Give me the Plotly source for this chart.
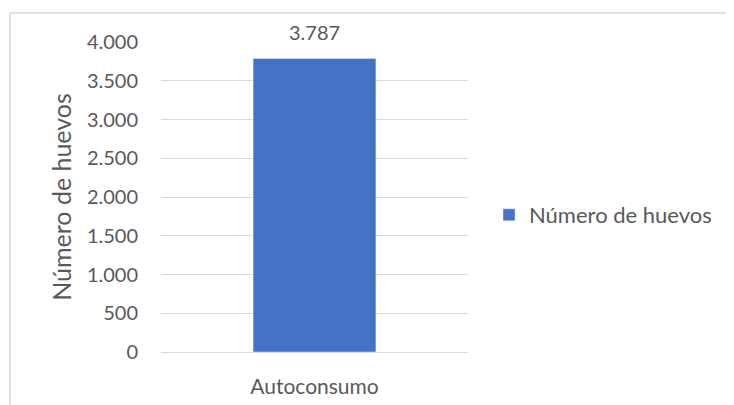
import plotly.graph_objects as go

categories = ["Autoconsumo"]
values = [3787]
series_name = "Número de huevos"
y_ticks = [0, 500, 1000, 1500, 2000, 2500, 3000, 3500, 4000]

OFF = 8  # page body margin
W, H = 734 - OFF, 405 - OFF
L, R, T, B = 161 - OFF, 734 - 468, 42 - OFF, 405 - 352
pw, ph = W - L - R, H - T - B

def px_x(x):
    return (x - OFF - L) / pw

def px_y(y):
    return (H - B - (y - OFF)) / ph

FONT = "Lato, Calibri, sans-serif"
GRAY = "#595959"

fig = go.Figure()
fig.add_trace(go.Bar(
    x=categories, y=values, name=series_name,
    marker_color="#4472c4",
    showlegend=True,
))
for c, v in zip(categories, values):
    fig.add_annotation(x=c, y=v, text=f"{v:,}".replace(",", "."), showarrow=False,
                       yanchor="bottom", yshift=13,
                       font=dict(size=20, color=GRAY, family=FONT))

fig.update_layout(
    width=W, height=H,
    margin=dict(l=L, r=R, t=T, b=B, autoexpand=False),
    paper_bgcolor="white", plot_bgcolor="white",
    separators=",.",
    bargap=0.6,
    font=dict(family=FONT, color=GRAY, size=20),
    showlegend=True,
    legend=dict(x=px_x(489), y=px_y(215), xanchor="left", yanchor="middle",
                font=dict(size=22, color=GRAY, family=FONT), itemwidth=30),
    xaxis=dict(showgrid=False, showline=False, ticks="", ticklabelstandoff=20,
               tickfont=dict(size=21, color=GRAY)),
    yaxis=dict(range=[0, 4000], tickvals=y_ticks, tickformat=",d",
               showgrid=True, gridcolor="#d9d9d9", gridwidth=1,
               zeroline=True, zerolinecolor="#d9d9d9", zerolinewidth=1,
               showline=False, ticks="", ticklabelstandoff=22,
               tickfont=dict(size=20, color=GRAY),
               title=dict(text=series_name, font=dict(size=25, color=GRAY), standoff=8)),
    shapes=[
        dict(type="line", xref="paper", yref="paper", x0=px_x(10), x1=px_x(734),
             y0=px_y(13), y1=px_y(13), line=dict(color="#d9d9d9", width=1.5)),
        dict(type="line", xref="paper", yref="paper", x0=px_x(10), x1=px_x(10),
             y0=px_y(13), y1=px_y(405), line=dict(color="#d9d9d9", width=1.5)),
    ],
)

fig.write_html("out.html")
